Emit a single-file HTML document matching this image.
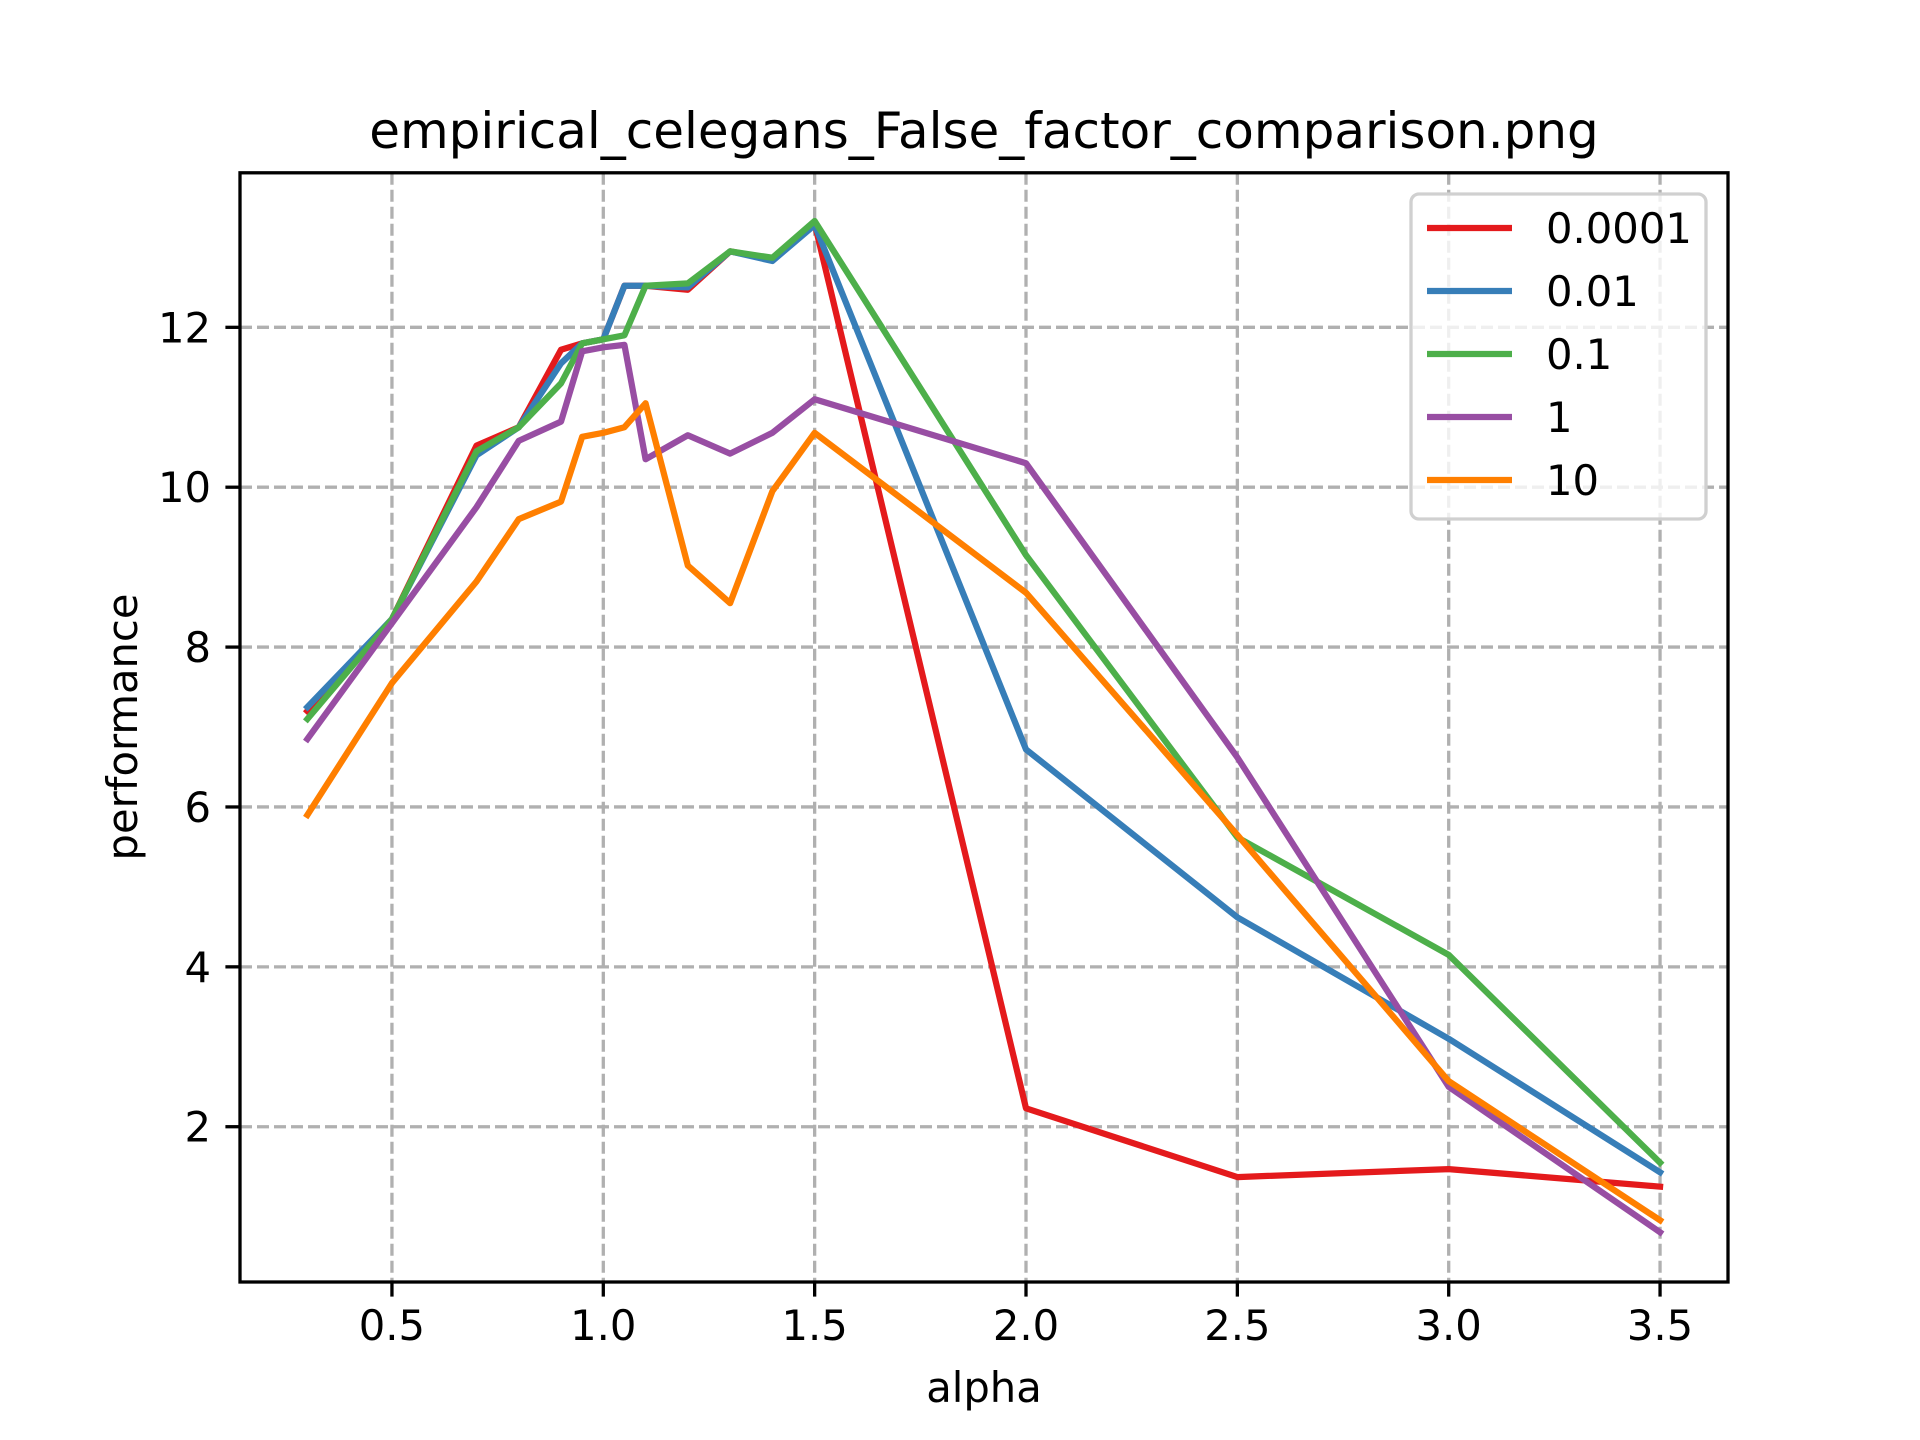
<!DOCTYPE html>
<html><head><meta charset="utf-8"><style>body{margin:0;background:#fff}svg{display:block}text{font-family:"DejaVu Sans","Liberation Sans",sans-serif}</style></head>
<body>
<svg id="chart" width="1920" height="1440" xmlns="http://www.w3.org/2000/svg">
<rect width="1920" height="1440" fill="#fff"/>
<g id="grid"></g><g id="series"></g><g id="axes"></g><g id="legend"></g>
</svg>
<script>
const alphas=[0.3,0.5,0.7,0.8,0.9,0.95,1.0,1.05,1.1,1.2,1.3,1.4,1.5,2.0,2.5,3.0,3.5];
const s0001=[7.2,8.35,10.52,10.75,11.72,11.8,11.85,12.52,12.52,12.47,12.95,12.85,13.3,2.23,1.37,1.47,1.25];
const s001=[7.25,8.35,10.4,10.75,11.55,11.8,11.85,12.52,12.52,12.5,12.95,12.83,13.28,6.72,4.62,3.1,1.43];
const s01=[7.1,8.35,10.45,10.75,11.3,11.8,11.85,11.9,12.52,12.55,12.95,12.87,13.33,9.15,5.62,4.15,1.55];
const s1=[6.85,8.3,9.75,10.58,10.82,11.7,11.75,11.78,10.35,10.65,10.42,10.68,11.1,10.3,6.62,2.5,0.68];
const s10=[5.9,7.55,8.82,9.6,9.82,10.63,10.68,10.75,11.05,9.02,8.55,9.95,10.68,8.68,5.65,2.57,0.83];
const seriesNames=["0.0001","0.01","0.1","1","10"];
const seriesData=[s0001,s001,s01,s1,s10];
const colors=["#e41a1c","#377eb8","#4daf4a","#984ea3","#ff7f00"];
const xTicks=[0.5,1.0,1.5,2.0,2.5,3.0,3.5];
const xTickLabels=["0.5","1.0","1.5","2.0","2.5","3.0","3.5"];
const yTicks=[2,4,6,8,10,12];
const yTickLabels=["2","4","6","8","10","12"];
const L=240,R=1728,T=172.8,B=1282;
const X=v=>180.6+v*422.7;
const Y=v=>1286.6-v*79.94;
const NS="http://www.w3.org/2000/svg";
function mk(tag,attrs,parent,txt){const e=document.createElementNS(NS,tag);for(const k in attrs)e.setAttribute(k,attrs[k]);if(txt!==undefined)e.textContent=txt;parent.appendChild(e);return e;}
const grid=document.getElementById('grid'),axes=document.getElementById('axes'),ser=document.getElementById('series'),leg=document.getElementById('legend');
xTicks.forEach((t,i)=>{
 const g=mk('line',{x1:X(t),x2:X(t),y1:T,y2:B,stroke:'#b0b0b0','stroke-width':3.3,'stroke-dasharray':'12 5'},grid);
 
 
 mk('line',{x1:X(t),x2:X(t),y1:B,y2:B+14.6,stroke:'#000','stroke-width':3.3},axes);
 const tx=mk('text',{x:X(t),y:B+58,'font-size':41.7,'text-anchor':'middle'},axes,xTickLabels[i]);
 
 
});
yTicks.forEach((t,i)=>{
 const g=mk('line',{x1:L,x2:R,y1:Y(t),y2:Y(t),stroke:'#b0b0b0','stroke-width':3.3,'stroke-dasharray':'12 5'},grid);
 
 
 mk('line',{x1:L-14.6,x2:L,y1:Y(t),y2:Y(t),stroke:'#000','stroke-width':3.3},axes);
 const tx=mk('text',{x:L-29,y:Y(t)+15,'font-size':41.7,'text-anchor':'end'},axes,yTickLabels[i]);
 
 
});
seriesData.forEach((d,si)=>{
 const p=mk('polyline',{points:d.map((v,i)=>X(alphas[i])+','+Y(v)).join(' '),fill:'none',stroke:colors[si],'stroke-width':6.25,'stroke-linejoin':'round','stroke-linecap':'square'},ser);
 
 
});
const frame=mk('rect',{x:L,y:T,width:R-L,height:B-T,fill:'none',stroke:'#000','stroke-width':3.3},axes);


const lb=mk('rect',{x:1411,y:194,width:295,height:325,rx:8,fill:'#fff','fill-opacity':0.8,stroke:'#d0d0d0','stroke-width':3.3},leg);


seriesNames.forEach((n,i)=>{
 const y=228+i*63;
 mk('line',{x1:1427,x2:1512,y1:y,y2:y,stroke:colors[i],'stroke-width':6.25},leg);
 const t=mk('text',{x:1546,y:y+15,'font-size':41.7},leg,n);
 
 
});
</script>
<svg style="position:absolute;left:0;top:0" width="1920" height="1440" xmlns="http://www.w3.org/2000/svg">
<text x="984" y="148" font-size="50" text-anchor="middle" font-family="DejaVu Sans, Liberation Sans, sans-serif">empirical_celegans_False_factor_comparison.png</text>
<text x="984" y="1402" font-size="41.7" text-anchor="middle" font-family="DejaVu Sans, Liberation Sans, sans-serif">alpha</text>
<text x="0" y="0" transform="translate(137,727) rotate(-90)" font-size="41.7" text-anchor="middle" font-family="DejaVu Sans, Liberation Sans, sans-serif">performance</text>
</svg>
</body></html>
